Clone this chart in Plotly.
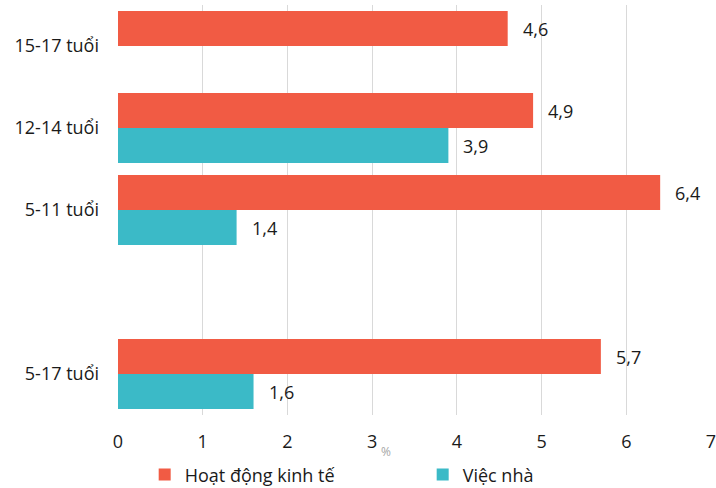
import plotly.graph_objects as go

# Age groups and the share (%) of children in each activity
groups = ["15-17 tuổi", "12-14 tuổi", "5-11 tuổi", "5-17 tuổi"]
kinh_te = [4.6, 4.9, 6.4, 5.7]
viec_nha = [None, 3.9, 1.4, 1.6]
series_names = ["Hoạt động kinh tế", "Việc nhà"]
x_ticks = [0, 1, 2, 3, 4, 5, 6, 7]

ORANGE = "#F15B44"
TEAL = "#3BBAC7"
FONT = "Open Sans"
TEXT_COLOR = "#1a1a1a"
FONT_SIZE = 18
BAR_W = 0.427

# bottom-to-top order, with an empty slot separating the total row
category_order = [groups[3], " ", groups[2], groups[1], groups[0]]


def fmt(v):
    return f"{v:.1f}".replace(".", ",")


fig = go.Figure()
fig.add_trace(go.Bar(
    name=series_names[0], y=groups, x=kinh_te, orientation="h",
    marker=dict(color=ORANGE, line=dict(width=0)),
    width=BAR_W, offset=0,
))
fig.add_trace(go.Bar(
    name=series_names[1], y=groups, x=viec_nha, orientation="h",
    marker=dict(color=TEAL, line=dict(width=0)),
    width=BAR_W, offset=-BAR_W,
))

# value labels beside each bar end; the orange bar sits above the
# category centre and the teal one below it
annotations = []
for vals, shift in ((kinh_te, 17.5), (viec_nha, -17.5)):
    for g, v in zip(groups, vals):
        if v is None:
            continue
        annotations.append(dict(
            x=v, y=g, xref="x", yref="y", yshift=shift,
            text=fmt(v), showarrow=False, xanchor="left", xshift=13,
            font=dict(family=FONT, size=FONT_SIZE, color=TEXT_COLOR),
        ))

annotations.append(dict(
    x=0.452, y=-0.115, xref="paper", yref="paper", text="%", showarrow=False,
    font=dict(family=FONT, size=12, color="#A6A6A6"),
))

fig.update_layout(
    width=716, height=488,
    margin=dict(l=118, r=5, t=5, b=73, autoexpand=False),
    paper_bgcolor="white", plot_bgcolor="white",
    barmode="overlay",
    font=dict(family=FONT, size=FONT_SIZE, color=TEXT_COLOR),
    showlegend=True,
    legend=dict(
        orientation="h", x=0.045, xanchor="left", y=-0.146, yanchor="middle",
        entrywidth=233, entrywidthmode="pixels",
        font=dict(family=FONT, size=FONT_SIZE, color=TEXT_COLOR),
        itemclick=False, itemdoubleclick=False,
    ),
    annotations=annotations,
    xaxis=dict(
        range=[0, 7], tickvals=x_ticks, ticktext=[str(t) for t in x_ticks],
        showgrid=True, gridcolor="#D9D9D9", gridwidth=1,
        zeroline=False, showline=False, ticks="",
        automargin=False, ticklabelstandoff=14, ticklabeloverflow="allow",
        tickfont=dict(family=FONT, size=FONT_SIZE, color=TEXT_COLOR),
        fixedrange=True,
    ),
    yaxis=dict(
        type="category", categoryorder="array", categoryarray=category_order,
        range=[-0.5, 4.5], showgrid=False, zeroline=False, showline=False,
        ticks="", automargin=False, ticklabelstandoff=18,
        tickfont=dict(family=FONT, size=FONT_SIZE, color=TEXT_COLOR),
        fixedrange=True,
    ),
)

fig.write_html("out.html")
